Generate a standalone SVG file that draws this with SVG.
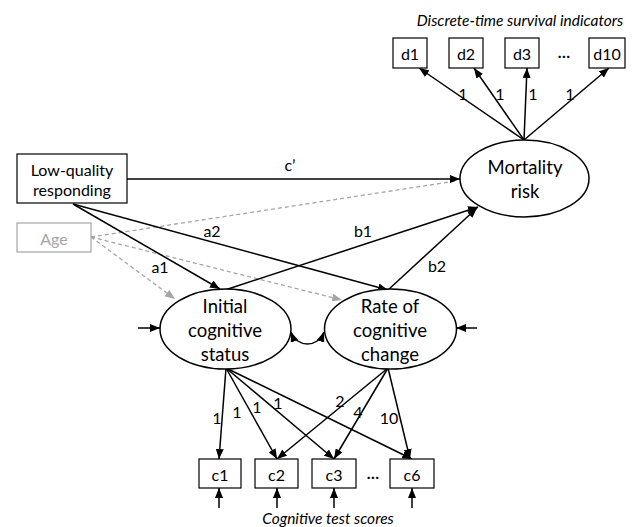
<svg xmlns="http://www.w3.org/2000/svg" width="638" height="527" viewBox="0 0 638 527">
<defs>
<marker id="ah" markerUnits="userSpaceOnUse" markerWidth="10" markerHeight="8" refX="10" refY="4" orient="auto-start-reverse"><path d="M0,0 L10,4 L0,8 z" fill="#000"/></marker>
<marker id="ahg" markerUnits="userSpaceOnUse" markerWidth="10" markerHeight="8" refX="10" refY="4" orient="auto"><path d="M0,0 L10,4 L0,8 z" fill="#a6a6a6"/></marker>
<style>
text{font-family:Lato,"Liberation Sans",sans-serif;fill:#000;text-anchor:middle;dominant-baseline:central}
.box{fill:#fff;stroke:#000;stroke-width:1.2}
.ell{fill:#fff;stroke:#000;stroke-width:1.5}
.lbl{font-size:16px}
.big{font-size:18.5px}
.it{font-style:italic;font-size:15.5px}
.e{fill:none;stroke:#000;stroke-width:1.5;marker-end:url(#ah)}
.g{fill:none;stroke:#a6a6a6;stroke-width:1.3;stroke-dasharray:4 3}
</style>
</defs>
<g id="connectors">
<path class="g" d="M91,237 L456,181"/>
<path class="g" d="M91,237 L175,299" marker-end="url(#ahg)"/>
<path class="g" d="M91,237 L342,300" marker-end="url(#ahg)"/>
<path class="e" d="M127,179 L460,179"/>
<path class="e" d="M73,204 L220,289"/>
<path class="e" d="M73,204 L388,290"/>
<path class="e" d="M225,290 L478,207"/>
<path class="e" d="M388,290 L477,208"/>
<path class="e" d="M524,140 L419,68"/>
<path class="e" d="M524,140 L474,68"/>
<path class="e" d="M524,140 L527,68"/>
<path class="e" d="M524,140 L609,68"/>
<path class="e" d="M226,368 L219,459"/>
<path class="e" d="M226,368 L277,459"/>
<path class="e" d="M226,368 L334,459"/>
<path class="e" d="M226,368 L412,459"/>
<path class="e" d="M388,368 L277,459"/>
<path class="e" d="M388,368 L334,459"/>
<path class="e" d="M388,368 L410,459"/>
<path class="e" d="M219,508 L219,488"/>
<path class="e" d="M277,508 L277,488"/>
<path class="e" d="M334,508 L334,488"/>
<path class="e" d="M412,508 L412,488"/>
<path class="e" d="M138,328 L160,328"/>
<path class="e" d="M477,328 L456,328"/>
<path class="e" d="M291,332 C297,348 318,348 324,332" marker-start="url(#ah)"/>
<text class="lbl" x="290" y="164">c’</text>
<text class="lbl" x="160" y="266">a1</text>
<text class="lbl" x="212" y="230">a2</text>
<text class="lbl" x="363" y="230">b1</text>
<text class="lbl" x="437" y="265">b2</text>
<text class="lbl" x="463" y="93">1</text>
<text class="lbl" x="500" y="93">1</text>
<text class="lbl" x="533" y="93">1</text>
<text class="lbl" x="570" y="93">1</text>
<text class="lbl" x="217" y="417">1</text>
<text class="lbl" x="237" y="411">1</text>
<text class="lbl" x="257" y="406">1</text>
<text class="lbl" x="278" y="402">1</text>
<text class="lbl" x="340" y="400">2</text>
<text class="lbl" x="358" y="411">4</text>
<text class="lbl" x="389" y="417">10</text>
</g>
<text class="it" x="520" y="20">Discrete-time survival indicators</text>
<text class="it" x="328" y="518">Cognitive test scores</text>
<g id="d1"><rect class="box" x="393" y="38" width="34" height="30"/><text class="lbl" x="410" y="53">d1</text></g>
<g id="d2"><rect class="box" x="449" y="38" width="34" height="30"/><text class="lbl" x="466" y="53">d2</text></g>
<g id="d3"><rect class="box" x="505" y="38" width="34" height="30"/><text class="lbl" x="522" y="53">d3</text></g>
<text class="lbl" x="564" y="51" font-weight="bold">…</text>
<g id="d10"><rect class="box" x="589" y="38" width="36" height="30"/><text class="lbl" x="607" y="53">d10</text></g>
<g id="mortality"><ellipse class="ell" cx="524.5" cy="178.5" rx="64.5" ry="38.5"/><text class="big" x="525" y="167">Mortality</text><text class="big" x="525" y="191">risk</text></g>
<g id="lowquality"><rect class="box" x="17" y="154" width="110" height="49"/><text class="lbl" x="72" y="169">Low-quality</text><text class="lbl" x="72" y="189">responding</text></g>
<g id="age"><rect fill="#fff" stroke="#a6a6a6" stroke-width="1.2" x="17" y="223" width="74" height="29"/><text class="lbl" x="54" y="238" style="fill:#a6a6a6">Age</text></g>
<g id="initial"><ellipse class="ell" cx="225.5" cy="329" rx="65.5" ry="40"/><text class="big" x="225" y="306">Initial</text><text class="big" x="225" y="330">cognitive</text><text class="big" x="225" y="354">status</text></g>
<g id="rate"><ellipse class="ell" cx="390.5" cy="329" rx="66" ry="40"/><text class="big" x="390" y="306">Rate of</text><text class="big" x="390" y="330">cognitive</text><text class="big" x="390" y="354">change</text></g>
<g id="c1"><rect class="box" x="199" y="459" width="42" height="29"/><text class="lbl" x="220" y="474">c1</text></g>
<g id="c2"><rect class="box" x="255" y="459" width="43" height="29"/><text class="lbl" x="276.5" y="474">c2</text></g>
<g id="c3"><rect class="box" x="312" y="459" width="44" height="29"/><text class="lbl" x="334" y="474">c3</text></g>
<text class="lbl" x="373" y="472" font-weight="bold">…</text>
<g id="c6"><rect class="box" x="390" y="459" width="44" height="29"/><text class="lbl" x="412" y="474">c6</text></g>
</svg>
